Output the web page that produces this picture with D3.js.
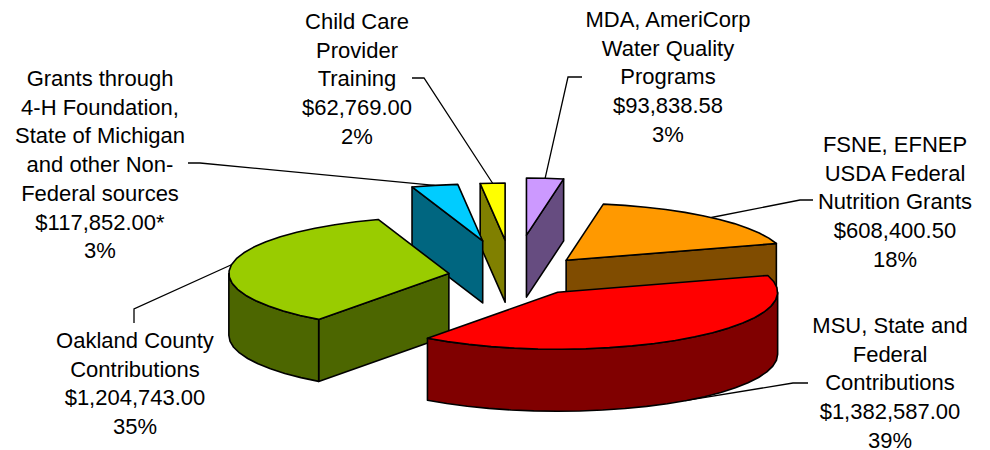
<!DOCTYPE html>
<html>
<head>
<meta charset="utf-8">
<script src="https://cdn.jsdelivr.net/npm/d3@7"></script>
<style>
  html, body { margin: 0; padding: 0; background: #fff; }
  svg { display: block; }
  text { font-family: "Liberation Sans", Arial, sans-serif; font-size: 22px; fill: #000; }
</style>
</head>
<body>
<svg id="chart" width="990" height="450"></svg>
<script>
// clockwise from 12 o'clock
const names = [
  ["MDA, AmeriCorp", "Water Quality", "Programs"],
  ["FSNE, EFNEP", "USDA Federal", "Nutrition Grants"],
  ["MSU, State and", "Federal", "Contributions"],
  ["Oakland County", "Contributions"],
  ["Grants through", "4-H Foundation,", "State of Michigan", "and other Non-", "Federal sources"],
  ["Child Care", "Provider", "Training"]
];
const amounts = [93838.58, 608400.50, 1382587.00, 1204743.00, 117852.00, 62769.00];
const amountNotes = ["", "", "", "", "*", ""];
const percents = ["3%", "18%", "39%", "35%", "3%", "2%"];

const topColors = ["#CC99FF", "#FF9900", "#FF0000", "#99CC00", "#00CCFF", "#FFFF00"];
const sideColors = ["#664C80", "#804C00", "#800000", "#4C6600", "#006680", "#808000"];

// how far each slice is pulled out of the pie, in radii
const explode = [0.72, 0.366, 0.35, 0.295, 0.63, 0.63];
const drawOrder = [5, 4, 0, 1, 3, 2];

// label block: centre x, first baseline, then leader start and elbow
const labelX = [668, 895, 890, 135, 100, 357];
const labelY = [27, 152, 333, 348, 86, 29];
const lineStep = 28.7;
const leaderStart = [[582, 77], [813, 200], [808, 383], [134, 323], [188, 163], [412, 78]];
const leaderBend = [[568, 77], [800, 200], [793, 383], [134, 309], [200, 163], [424, 78]];

const center = { x: 513, y: 276 };
const depth = 62;
const xScale = d3.scaleLinear().domain([-1, 1]).range([-220, 220]);
const yScale = d3.scaleLinear().domain([-1, 1]).range([-57, 57]);
const arcStep = 0.11;

const svg = d3.select("#chart");
const formatAmount = d3.format("$,.2f");

const slices = d3.pie().sort(null).value(d => d).startAngle(0).endAngle(2 * Math.PI)(amounts);

function apex(s, i) {
  const mid = (s.startAngle + s.endAngle) / 2;
  return [
    center.x + xScale(Math.sin(mid)) * explode[i],
    center.y - yScale(Math.cos(mid)) * explode[i]
  ];
}

function rim(s, i, angle) {
  const p = apex(s, i);
  return [p[0] + xScale(Math.sin(angle)), p[1] - yScale(Math.cos(angle))];
}

function arcAngles(a0, a1) {
  const n = Math.max(1, Math.ceil((a1 - a0) / arcStep));
  return d3.range(n + 1).map(k => a0 + (a1 - a0) * k / n);
}

const line = d3.line();
const closed = pts => line(pts) + "Z";
const drop = p => [p[0], p[1] + depth];

// leaders go under the slices
slices.forEach((s, i) => {
  const mid = (s.startAngle + s.endAngle) / 2;
  let end = rim(s, i, mid);
  if (Math.cos(mid) < 0) end = drop(end);
  svg.append("path")
    .attr("d", line([leaderStart[i], leaderBend[i], end]))
    .attr("fill", "none")
    .attr("stroke", "#000")
    .attr("stroke-width", 1.3);
});

drawOrder.forEach(i => {
  const s = slices[i];
  const g = svg.append("g")
    .attr("stroke", "#000")
    .attr("stroke-width", 1.6)
    .attr("stroke-linejoin", "round");
  const p = apex(s, i);

  // cut faces, only the ones turned to the viewer
  [[s.startAngle, Math.sin(s.startAngle) < -1e-6], [s.endAngle, Math.sin(s.endAngle) > 1e-6]]
    .forEach(([angle, visible]) => {
      if (!visible) return;
      const q = rim(s, i, angle);
      g.append("path")
        .attr("d", closed([p, q, drop(q), drop(p)]))
        .attr("fill", sideColors[i]);
    });

  // outer wall, front half of the ellipse
  const a0 = Math.max(s.startAngle, Math.PI / 2);
  const a1 = Math.min(s.endAngle, 3 * Math.PI / 2);
  if (a1 > a0) {
    const upper = arcAngles(a0, a1).map(a => rim(s, i, a));
    g.append("path")
      .attr("d", closed(upper.concat(upper.slice().reverse().map(drop))))
      .attr("fill", sideColors[i]);
  }

  // top face
  const outer = arcAngles(s.startAngle, s.endAngle).map(a => rim(s, i, a));
  g.append("path")
    .attr("d", closed([p].concat(outer)))
    .attr("fill", topColors[i]);
});

slices.forEach((s, i) => {
  const rows = names[i].concat([formatAmount(amounts[i]) + amountNotes[i], percents[i]]);
  svg.append("g").selectAll("text")
    .data(rows)
    .join("text")
    .attr("x", labelX[i])
    .attr("y", (d, k) => labelY[i] + k * lineStep)
    .attr("text-anchor", "middle")
    .text(d => d);
});
</script>
</body>
</html>
